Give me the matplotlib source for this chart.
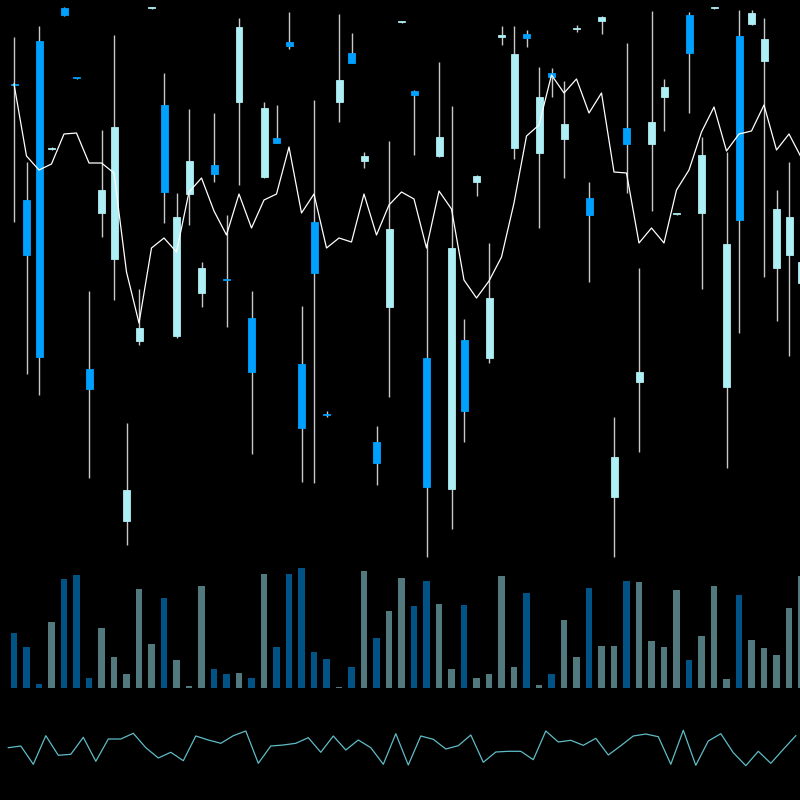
import numpy as np
import matplotlib
matplotlib.use("Agg")
import matplotlib.pyplot as plt

# ---------------- data ----------------
opens = [476, 360, 519, 411, 552, 482.2, 191, 347, 301, 39, 219, 552, 455, 224, 366, 267,
         395, 280.3, 458, 242, 383, 422, 518, 196, 338, 146, 458, 507, 399, 118, 253, 538,
         469, 202, 404, 71, 220, 378, 202, 523, 412, 526, 407, 487, 421, 531.5, 362, 539,
         63, 432, 178, 416, 463, 346, 545, 347, 552, 173, 524, 536, 499, 292, 305, 277]
highs = [523, 398, 534, 413, 553, 482.5, 269, 430, 525, 137, 271, 553, 487, 367, 451, 298,
         447, 345, 542, 269, 458, 455, 548, 254, 460, 149, 546, 527, 408, 134, 419, 539,
         470, 317, 498, 454, 241, 385, 317, 534, 534, 530, 493, 492, 479, 535, 378, 544,
         143, 517, 292, 549, 481, 346.5, 548, 423, 553, 408, 550, 550, 542, 370, 398, 310]
lows = [338, 186, 165, 410, 544, 481.5, 82, 323, 260, 15, 215, 551, 337, 222, 335, 253,
        378, 233, 375, 106, 382, 417, 511, 78, 77, 143, 438, 497, 392, 75, 163, 537,
        405, 3, 403, 31, 118, 364, 197, 515, 401, 513, 332, 463, 382, 528, 278, 526,
        3, 367, 108, 349, 429, 345.5, 447, 271, 551, 92, 227, 535, 283, 239, 204, 260]
closes = [475.5, 305, 203, 412, 545, 481.8, 171, 370, 433, 70, 232, 552.5, 368, 343, 399, 292,
          386, 279.7, 533, 188, 452, 417.5, 514, 132, 287, 145, 480, 497, 404, 97, 331, 538.5,
          465, 73, 423, 312, 149, 384, 262, 525, 506, 522, 463, 483, 436, 532, 345, 543,
          103, 416, 188, 438, 473, 346.3, 507, 405, 552.5, 316, 340, 547, 521, 351, 343, 298]
ma_line = [476, 404, 390, 396, 426, 427, 397, 397, 387, 288, 237, 312, 322, 308, 368, 382,
           349, 325, 366, 332, 360, 366, 413, 347, 366, 312, 322, 318, 366, 325, 355, 368,
           361, 312, 369, 351, 280, 262, 279, 303, 357, 424, 435, 485, 467, 481, 447, 467,
           388, 387, 317, 332, 317, 370, 390, 428, 453, 409, 426, 429, 455, 410, 426, 402]
volumes = [55, 41, 4, 66, 109, 113, 10, 60, 31, 14, 99, 44, 90, 28, 2, 102,
           19, 14, 15, 10, 114, 41, 114, 120, 36, 29, 1.3, 21, 117, 50, 77, 110,
           82, 107, 84, 19, 83, 10, 14, 112, 21, 95, 3, 14, 68, 31, 100, 42,
           42, 107, 106, 47, 41, 98, 28, 52, 102, 9, 93, 48, 40, 33, 80, 112]
indicator = [52.3, 54, 35.7, 64.3, 44.7, 45.7, 62.7, 38.7, 61, 61, 66.7, 52.3, 42, 47.7, 39.3, 64,
             60, 56.7, 64.3, 69, 36.7, 54, 55, 56.7, 62.3, 47.7, 64, 50, 60, 52.3, 35.7, 66.3,
             35, 64, 60.7, 51, 54.3, 65, 37.7, 48, 48.7, 48.7, 40.3, 69, 58, 59.7, 54.7, 61.7,
             45, 54.3, 64, 66, 63.3, 35.7, 69.7, 34.7, 59, 66.3, 47.3, 34.3, 48.7, 36.7, 50.7, 64.3]

# ---------------- style ----------------
UP = "#aeeef5"
DOWN = "#00a0ff"
WICK = "#c8c8c8"
VOL_UP = "#527a7e"
VOL_DOWN = "#005384"
IND = "#5fbcc6"

n = len(opens)
x = np.arange(n)
o = np.array(opens, float)
h = np.array(highs, float)
l = np.array(lows, float)
c = np.array(closes, float)
up = c >= o

fig = plt.figure(figsize=(8, 8), dpi=100, facecolor="black")

ax = fig.add_axes([0, 0.3, 1, 0.7])
axv = fig.add_axes([0, 0.14, 1, 0.16])
axi = fig.add_axes([0, 0.0, 1, 0.12])
for a in (ax, axv, axi):
    a.set_facecolor("black")
    a.set_axis_off()

# candles
ax.vlines(x, l, h, color=WICK, linewidth=1, zorder=1)
bottoms = np.minimum(o, c)
heights = np.maximum(np.abs(c - o), 0.9)
cols = [UP if u else DOWN for u in up]
ax.bar(x, heights, bottom=bottoms, width=0.56, color=cols,
       edgecolor=cols, linewidth=0.6, zorder=2)
ax.plot(x, ma_line, color="white", linewidth=0.9, zorder=3)
ax.set_xlim(-1.12, 62.88)
ax.set_ylim(0, 560)

# volume
vcols = [VOL_UP if u else VOL_DOWN for u in up]
axv.bar(x, volumes, width=0.5, color=vcols)
axv.set_xlim(-1.12, 62.88)
axv.set_ylim(0, 128)

# indicator
axi.plot(x, indicator, color=IND, linewidth=0.9)
axi.set_xlim(-0.664, 63.336)
axi.set_ylim(0, 96)

fig.savefig("out.png", dpi=100, facecolor="black")
